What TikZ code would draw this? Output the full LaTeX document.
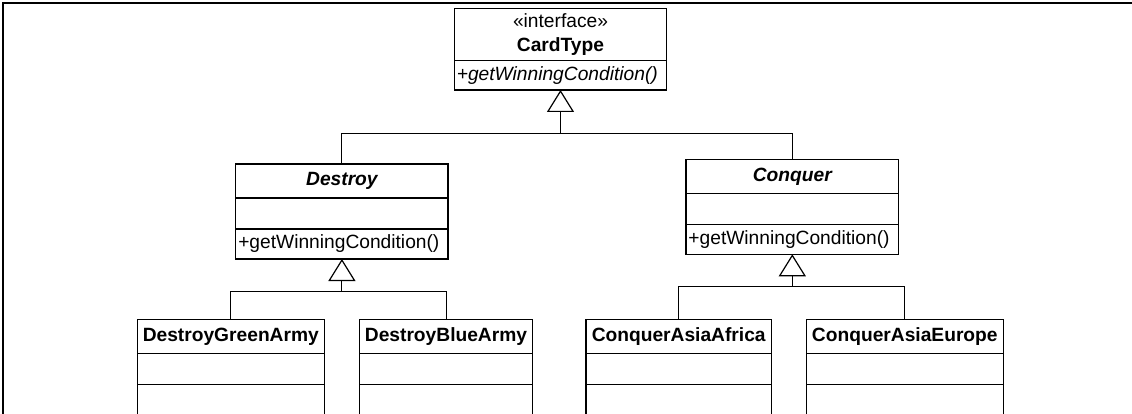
\documentclass[tikz,border=0pt]{standalone}
\usepackage{fontspec}
\setmainfont{Liberation Sans}
\usepackage{tikz}
\usetikzlibrary{positioning,arrows.meta}

\tikzset{
  umlname/.style={draw, line width=1.2pt, inner sep=0pt, outer sep=0pt, anchor=north, minimum height=34pt, align=center, font=\bfseries},
  umlattr/.style={draw, line width=1.2pt, inner sep=0pt, outer sep=0pt, minimum height=31pt},
  umlop/.style={draw, line width=1.2pt, inner xsep=2.5pt, inner ysep=0pt, outer sep=0pt, minimum height=30pt, align=left},
  joinline/.style={line width=1pt},
  realize/.style={line width=1pt, -{Triangle[open, length=22pt, width=27pt, line width=1.2pt]}}
}

\begin{document}
\fontsize{19.2pt}{24pt}\selectfont
\begin{tikzpicture}[x=1pt, y=-1pt]
  \useasboundingbox (0,0) rectangle (1132,414);
  \clip (0,0) rectangle (1132,414);

  % frame
  \draw[line width=2pt] (2.5,420) -- (2.5,3.5) -- (1140,3.5);

  % interface
  \node[umlname, minimum width=212.4pt, minimum height=52.4pt, font=\normalfont] (cardtype) at (560.5,8.3) {«interface»\\\textbf{CardType}};
  \node[umlop, text width=207.4pt, minimum height=29.3pt, below=0pt of cardtype, font=\itshape] (cardtype-op) {+getWinningCondition()};

  % abstract classes
  \node[umlname, minimum width=212.3pt, font=\bfseries\itshape] (destroy) at (341.9,164) {Destroy};
  \node[umlattr, minimum width=212.3pt, below=0pt of destroy] (destroy-attr) {};
  \node[umlop, text width=207.3pt, below=0pt of destroy-attr] (destroy-op) {+getWinningCondition()};

  \node[umlname, minimum width=212.7pt, font=\bfseries\itshape] (conquer) at (792.3,159.3) {Conquer};
  \node[umlattr, minimum width=212.7pt, below=0pt of conquer] (conquer-attr) {};
  \node[umlop, text width=207.7pt, below=0pt of conquer-attr] (conquer-op) {+getWinningCondition()};

  % concrete classes
  \node[umlname, minimum width=187pt] (greenarmy) at (230.8,319.7) {DestroyGreenArmy};
  \node[umlattr, minimum width=187pt, below=0pt of greenarmy] (greenarmy-attr) {};
  \node[umlattr, minimum width=187pt, minimum height=40pt, below=0pt of greenarmy-attr] (greenarmy-op) {};

  \node[umlname, minimum width=172.6pt] (bluearmy) at (446,319.7) {DestroyBlueArmy};
  \node[umlattr, minimum width=172.6pt, below=0pt of bluearmy] (bluearmy-attr) {};
  \node[umlattr, minimum width=172.6pt, minimum height=40pt, below=0pt of bluearmy-attr] (bluearmy-op) {};

  \node[umlname, minimum width=185.3pt] (asiaafrica) at (678.7,319.7) {ConquerAsiaAfrica};
  \node[umlattr, minimum width=185.3pt, below=0pt of asiaafrica] (asiaafrica-attr) {};
  \node[umlattr, minimum width=185.3pt, minimum height=40pt, below=0pt of asiaafrica-attr] (asiaafrica-op) {};

  \node[umlname, minimum width=197pt] (asiaeurope) at (904.8,319.7) {ConquerAsiaEurope};
  \node[umlattr, minimum width=197pt, below=0pt of asiaeurope] (asiaeurope-attr) {};
  \node[umlattr, minimum width=197pt, minimum height=40pt, below=0pt of asiaeurope-attr] (asiaeurope-op) {};

  % generalisation
  \coordinate (topjoin) at (cardtype-op.south |- 0,134);
  \coordinate (destroyjoin) at (destroy-op.south |- 0,291.5);
  \coordinate (conquerjoin) at (conquer-op.south |- 0,286.7);

  \draw[joinline] (destroy.north) |- (conquer.north |- topjoin) -- (conquer.north);
  \draw[realize] (topjoin) -- (cardtype-op.south);

  \draw[joinline] (greenarmy.north) |- (bluearmy.north |- destroyjoin) -- (bluearmy.north);
  \draw[realize] (destroyjoin) -- (destroy-op.south);

  \draw[joinline] (asiaafrica.north) |- (asiaeurope.north |- conquerjoin) -- (asiaeurope.north);
  \draw[realize] (conquerjoin) -- (conquer-op.south);
\end{tikzpicture}
\end{document}
